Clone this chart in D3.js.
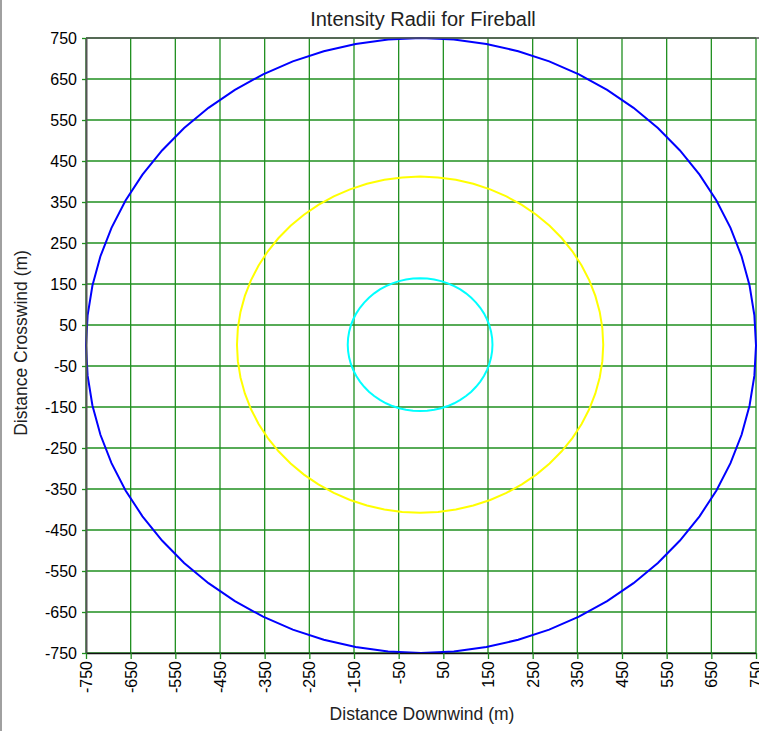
<!DOCTYPE html>
<html lang="en">
<head>
<meta charset="UTF-8">
<title>Intensity Radii for Fireball</title>
<script src="https://d3js.org/d3.v7.min.js"></script>
<style>
  body { margin: 0; background: #fff; }
  svg { font-family: "Liberation Sans", Arial, sans-serif; }
</style>
</head>
<body>
<script>
// tick values (m) on both axes
var ticks = [-750, -650, -550, -450, -350, -250, -150, -50, 50, 150, 250, 350, 450, 550, 650, 750];

// threat zones
var zoneNames = ["red", "orange", "yellow"];
var zoneRadii = [750, 410, 162];
var zoneColors = ["#0000ff", "#ffff00", "#00ffff"];
var zoneCenterX = [0, -2, -2];
var zoneCenterY = [0, 2, 2];

var W = 759, H = 731;
var margin = {top: 38, right: 3, bottom: 78, left: 86};
var w = W - margin.left - margin.right,
    h = H - margin.top - margin.bottom;

var svg = d3.select("body").append("svg")
  .attr("width", W)
  .attr("height", H);

// window frame on the left
svg.append("line")
  .attr("x1", 1).attr("x2", 1).attr("y1", 0).attr("y2", H)
  .attr("stroke", "#a0a0a0").attr("stroke-width", 2);

var chart = svg.append("g")
  .attr("transform", "translate(" + margin.left + "," + margin.top + ")");

var x = d3.scaleLinear().domain([-750, 750]).range([0, w]);
var y = d3.scaleLinear().domain([-750, 750]).range([h, 0]);

// grid
chart.append("g").selectAll("line")
  .data(ticks)
  .enter().append("line")
  .attr("x1", function(d) { return x(d); })
  .attr("x2", function(d) { return x(d); })
  .attr("y1", 0).attr("y2", h)
  .attr("stroke", "#1f8f1f").attr("stroke-width", 1.3);

chart.append("g").selectAll("line")
  .data(ticks)
  .enter().append("line")
  .attr("y1", function(d) { return y(d); })
  .attr("y2", function(d) { return y(d); })
  .attr("x1", 0).attr("x2", w)
  .attr("stroke", "#1f8f1f").attr("stroke-width", 1.3);

// the zones, drawn as polygons round their centre
var nPts = 64;
var line = d3.line()
  .x(function(p) { return x(p[0]); })
  .y(function(p) { return y(p[1]); });

zoneRadii.forEach(function(r, i) {
  var pts = d3.range(nPts + 1).map(function(k) {
    var a = 2 * Math.PI * k / nPts;
    return [zoneCenterX[i] + r * Math.cos(a), zoneCenterY[i] + r * Math.sin(a)];
  });
  chart.append("path")
    .datum(pts)
    .attr("class", "zone " + zoneNames[i])
    .attr("d", line)
    .attr("fill", "none")
    .attr("stroke", zoneColors[i])
    .attr("stroke-width", 2);
});

// axes
var fmt = function(d) { return String(d); };
var yAxis = d3.axisLeft(y).tickValues(ticks).tickFormat(fmt).tickSize(4).tickPadding(5).tickSizeOuter(0);
var xAxis = d3.axisBottom(x).tickValues(ticks).tickFormat(fmt).tickSize(6).tickPadding(3).tickSizeOuter(0);

var gy = chart.append("g").call(yAxis)
  .attr("font-size", 16).attr("font-family", "Liberation Sans, Arial, sans-serif");
gy.select(".domain").attr("stroke", "#555").attr("stroke-width", 2);
gy.selectAll(".tick line").attr("stroke", "#1f8f1f").attr("stroke-width", 1.3);
gy.selectAll(".tick text").attr("fill", "#000");

var gx = chart.append("g").attr("transform", "translate(0," + h + ")").call(xAxis)
  .attr("font-size", 16).attr("font-family", "Liberation Sans, Arial, sans-serif");
gx.select(".domain").attr("stroke", "#111").attr("stroke-width", 1.5);
gx.selectAll(".tick line").attr("stroke", "#1f8f1f").attr("stroke-width", 1.3);
gx.selectAll(".tick text")
  .attr("fill", "#000")
  .attr("transform", "rotate(-90)")
  .attr("text-anchor", "end")
  .attr("x", -8)
  .attr("y", 0)
  .attr("dy", "0.35em");

// top border
chart.append("line")
  .attr("x1", 0).attr("x2", w + margin.right).attr("y1", 0).attr("y2", 0)
  .attr("stroke", "#555").attr("stroke-width", 1.5);

// titles
svg.append("text")
  .attr("x", 423).attr("y", 26)
  .attr("text-anchor", "middle")
  .attr("font-size", "20px").attr("fill", "#222")
  .text("Intensity Radii for Fireball");

svg.append("text")
  .attr("x", 422).attr("y", 720)
  .attr("text-anchor", "middle")
  .attr("font-size", "17.5px").attr("fill", "#222")
  .text("Distance Downwind (m)");

svg.append("text")
  .attr("transform", "translate(27," + 343 + ") rotate(-90)")
  .attr("text-anchor", "middle")
  .attr("font-size", "17.5px").attr("fill", "#222")
  .text("Distance Crosswind (m)");
</script>
</body>
</html>
